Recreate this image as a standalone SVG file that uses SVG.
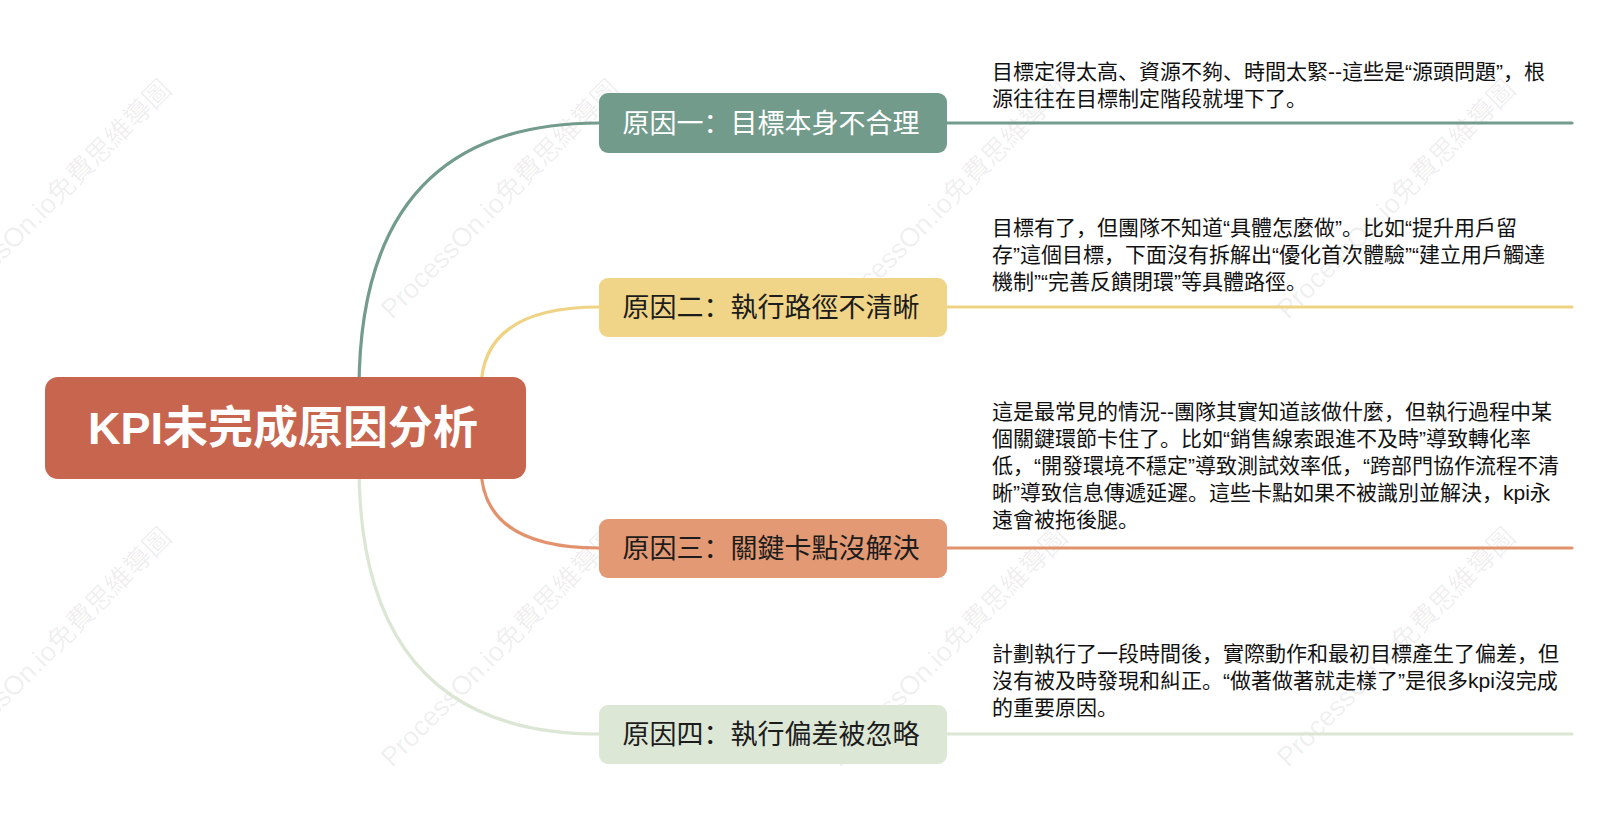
<svg xmlns="http://www.w3.org/2000/svg" width="1616" height="824" viewBox="0 0 1616 824">
<style>
.wm{font-family:"Liberation Sans","Noto Sans CJK TC",sans-serif;font-size:27px;fill:#000;fill-opacity:0.07}
.root{font-family:"Liberation Sans","Noto Sans CJK SC",sans-serif;font-size:45px;font-weight:bold;fill:#fff}
.nt{font-family:"Noto Sans CJK SC",sans-serif;font-size:27px;fill:#1c1c1c}
.desc{font-family:"Liberation Sans","Noto Sans CJK SC",sans-serif;font-size:21px;fill:#111}
.c{fill:none;stroke-width:3.2;stroke-linecap:round}
</style>
<rect width="1616" height="824" fill="#fff"/>
<g id="watermarks">
<text class="wm" transform="translate(-56,320) rotate(-45)">ProcessOn.io免費思維導圖</text>
<text class="wm" transform="translate(392,320) rotate(-45)">ProcessOn.io免費思維導圖</text>
<text class="wm" transform="translate(840,320) rotate(-45)">ProcessOn.io免費思維導圖</text>
<text class="wm" transform="translate(1288,320) rotate(-45)">ProcessOn.io免費思維導圖</text>
<text class="wm" transform="translate(-56,768) rotate(-45)">ProcessOn.io免費思維導圖</text>
<text class="wm" transform="translate(392,768) rotate(-45)">ProcessOn.io免費思維導圖</text>
<text class="wm" transform="translate(840,768) rotate(-45)">ProcessOn.io免費思維導圖</text>
<text class="wm" transform="translate(1288,768) rotate(-45)">ProcessOn.io免費思維導圖</text>
</g>
<g id="connectors">
<path class="c" stroke="#739C8C" d="M359 390 Q359 123 599 123 L1572 123"/>
<path class="c" stroke="#EFD385" d="M481 390 Q481 307 599 307 L1572 307"/>
<path class="c" stroke="#E2936D" d="M481 466 Q481 548 599 548 L1572 548"/>
<path class="c" stroke="#DCE6D4" d="M359 466 Q359 734 599 734 L1572 734"/>
</g>
<g id="root">
<rect x="45" y="377" width="481" height="102" rx="13" fill="#C8654F"/>
<text class="root" x="283" y="444" text-anchor="middle">KPI未完成原因分析</text>
</g>
<g id="reason1">
<rect x="599" y="93" width="348" height="60" rx="9" fill="#729B8B"/>
<text class="nt" x="771" y="133" text-anchor="middle" style="fill:#fff">原因一：目標本身不合理</text>
<text class="desc"><tspan x="992" y="79">目標定得太高、資源不夠、時間太緊--這些是“源頭問題”，根</tspan><tspan x="992" y="106">源往往在目標制定階段就埋下了。</tspan></text>
</g>
<g id="reason2">
<rect x="599" y="278" width="348" height="59" rx="9" fill="#F0D487"/>
<text class="nt" x="771" y="317" text-anchor="middle">原因二：執行路徑不清晰</text>
<text class="desc"><tspan x="992" y="235">目標有了，但團隊不知道“具體怎麼做”。比如“提升用戶留</tspan><tspan x="992" y="262">存”這個目標，下面沒有拆解出“優化首次體驗”“建立用戶觸達</tspan><tspan x="992" y="289">機制”“完善反饋閉環”等具體路徑。</tspan></text>
</g>
<g id="reason3">
<rect x="599" y="519" width="348" height="59" rx="9" fill="#E29974"/>
<text class="nt" x="771" y="558" text-anchor="middle">原因三：關鍵卡點沒解決</text>
<text class="desc"><tspan x="992" y="419">這是最常見的情況--團隊其實知道該做什麼，但執行過程中某</tspan><tspan x="992" y="446">個關鍵環節卡住了。比如“銷售線索跟進不及時”導致轉化率</tspan><tspan x="992" y="473">低，“開發環境不穩定”導致測試效率低，“跨部門協作流程不清</tspan><tspan x="992" y="500">晰”導致信息傳遞延遲。這些卡點如果不被識別並解決，kpi永</tspan><tspan x="992" y="527">遠會被拖後腿。</tspan></text>
</g>
<g id="reason4">
<rect x="599" y="705" width="348" height="59" rx="9" fill="#DDE7D6"/>
<text class="nt" x="771" y="744" text-anchor="middle">原因四：執行偏差被忽略</text>
<text class="desc"><tspan x="992" y="661">計劃執行了一段時間後，實際動作和最初目標產生了偏差，但</tspan><tspan x="992" y="688">沒有被及時發現和糾正。“做著做著就走樣了”是很多kpi沒完成</tspan><tspan x="992" y="715">的重要原因。</tspan></text>
</g>
</svg>
